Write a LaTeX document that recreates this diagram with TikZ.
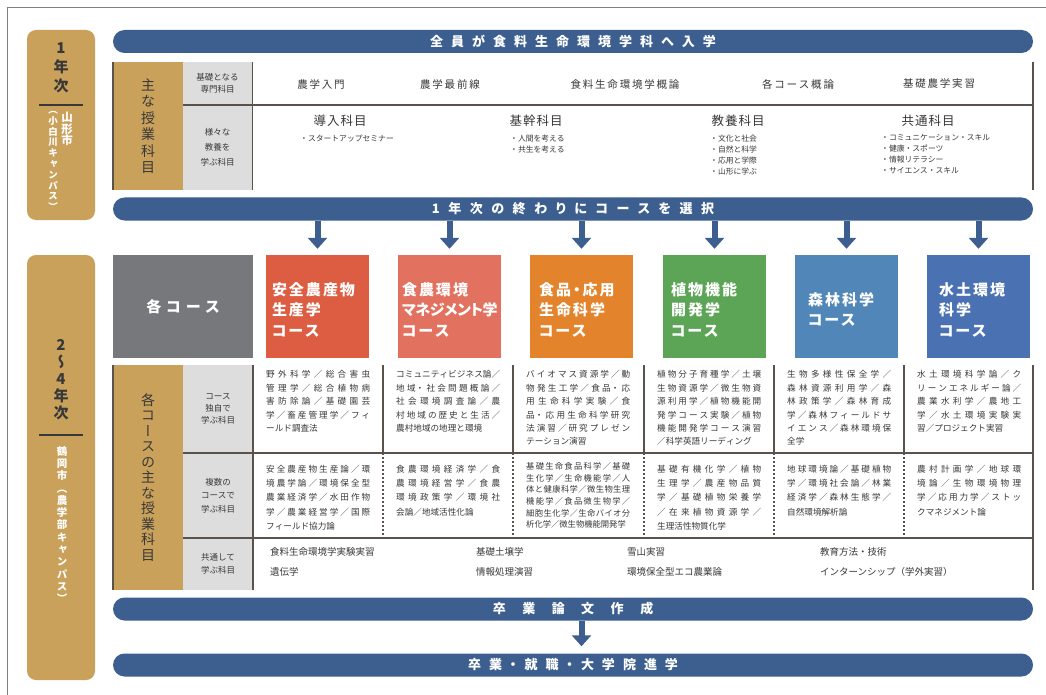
\documentclass[tikz,border=0pt]{standalone}
\usepackage{fontspec}
\usepackage{graphicx}
\usetikzlibrary{arrows.meta}
\setmainfont{Noto Sans CJK JP}
\newfontfamily\hfont{Noto Sans CJK JP}[RawFeature=+palt]
\newfontfamily\vfont{Noto Sans CJK JP}[RawFeature=+vert]
\XeTeXlinebreaklocale "ja"
\lineskiplimit=-\maxdimen
\definecolor{barblue}{HTML}{3C5F90}
\definecolor{sidegold}{HTML}{C9A15B}
\definecolor{headgray}{HTML}{DDDDDD}
\definecolor{coursegray}{HTML}{76787B}
\definecolor{cRed}{HTML}{DC5D42}
\definecolor{cSalmon}{HTML}{E2725F}
\definecolor{cOrange}{HTML}{E3832B}
\definecolor{cGreen}{HTML}{5DA556}
\definecolor{cSteel}{HTML}{5186B9}
\definecolor{cBlue}{HTML}{4A72B2}
\definecolor{txt}{HTML}{383838}
\definecolor{linecol}{HTML}{5A524B}
\definecolor{framecol}{HTML}{808080}
\makeatletter
\def\ls#1#2{\mbox{\def\ls@sk{\hskip#1\relax}\ls@i#2\ls@end}}
\def\ls@end{\ls@end}
\def\ls@i#1{\ifx#1\ls@end\unskip\else#1\ls@sk\expandafter\ls@i\fi}
\makeatother
\newcommand\celltext[1]{\parindent=0pt\leftskip=0pt\rightskip=0pt\parfillskip=0pt plus 1fill\XeTeXlinebreakskip=0pt plus 1fil\relax#1\par}
\tikzset{
  bar/.style={fill=barblue, rounded corners=11.5pt, minimum width=920pt, minimum height=23pt, inner sep=0pt, text=white, font=\hfont\bfseries\fontsize{13}{13}\selectfont},
  sidebar/.style={fill=sidegold, rounded corners=9pt, minimum width=68pt, inner sep=0pt},
  yeartxt/.style={align=center, inner sep=0pt, text=txt, font=\vfont\bfseries\fontsize{15}{19}\selectfont},
  camp/.style={align=center, inner sep=0pt, anchor=north, text=white},
  goldlab/.style={fill=sidegold, inner sep=0pt, minimum width=70pt, align=center, text=txt, font=\vfont\fontsize{14}{16.5}\selectfont},
  headcell/.style={fill=headgray, inner sep=0pt, align=center, text=txt, font=\fontsize{8.5}{12}\selectfont},
  tline/.style={draw=linecol, line width=1.1pt},
  dline/.style={draw=linecol, line width=1.1pt, dash pattern=on 2.2pt off 1.8pt},
  r1item/.style={inner sep=0pt, text=txt, font=\fontsize{10.5}{12}\selectfont},
  subhead/.style={inner sep=0pt, text=txt, font=\fontsize{12.5}{14}\selectfont},
  bullets/.style={anchor=north west, inner sep=0pt, align=left, text=txt, font=\fontsize{7.8}{11}\selectfont},
  course/.style={minimum width=103pt, minimum height=103pt, inner sep=0pt},
  coursetxt/.style={inner sep=0pt, align=left, text=white, font=\hfont\bfseries\fontsize{15}{20.5}\selectfont},
  cell/.style={anchor=north west, inner sep=0pt, text width=104pt, text=txt, font=\fontsize{8.6}{13.4}\selectfont},
  common/.style={anchor=west, inner sep=0pt, text=txt, font=\fontsize{9.5}{11}\selectfont},
  arr/.style={draw=barblue, line width=6pt, -{Triangle[width=19pt,length=11pt]}, shorten >=6pt},
  yline/.style={draw=txt, line width=1.3pt}
}
\begin{document}
\begin{tikzpicture}[x=1pt,y=-1pt]
\useasboundingbox (0,0) rectangle (1046,695);
\fill[white] (0,0) rectangle (1046,695);
\draw[framecol, line width=0.8pt] (7,700) -- (7,7) -- (1050,7);

% sidebars
\node[sidebar, minimum height=190pt] (s1) at (61,125) {};
\node[sidebar, minimum height=425pt] (s2) at (61,467.5) {};
\node[yeartxt] (y1) at (61,68) {1\\年\\次};
\draw[yline] (39,105) -- (83,105);
\node[camp, font=\vfont\bfseries\fontsize{11.5}{11.5}\selectfont] (cp1a) at (67,112) {山\\形\\市};
\node[camp, font=\vfont\bfseries\fontsize{9.5}{10.8}\selectfont] (cp1b) at (53,111) {（\\小\\白\\川\\キ\\ャ\\ン\\パ\\ス\\）};
\node[yeartxt, font=\vfont\bfseries\fontsize{15}{17}\selectfont] (y2) at (61,380) {2\\〜\\4\\年\\次};
\draw[yline] (39,435) -- (83,435);
\node[camp, font=\vfont\bfseries\fontsize{10.5}{12.3}\selectfont] (cp2) at (62,446) {鶴\\岡\\市\\（\\農\\学\\部\\キ\\ャ\\ン\\パ\\ス\\）};

% bars
\node[bar] (b1) at (573,41.5) {\ls{8pt}{全員が食料生命環境学科へ入学}};
\node[bar] (b2) at (573,209) {\ls{8.5pt}{1年次の終わりにコースを選択}};
\node[bar] (b3) at (573,609) {\ls{16.5pt}{卒業論文作成}};
\node[bar] (b4) at (573,665) {\ls{8pt}{卒業・就職・大学院進学}};

% year 1 table
\node[goldlab, minimum height=128pt] (lab1) at (148,126) {主\\な\\授\\業\\科\\目};
\node[headcell, minimum width=69pt, minimum height=43pt] (g11) at (217.5,83.5) {基礎となる\\専門科目};
\node[headcell, minimum width=69pt, minimum height=85pt, font=\fontsize{8.5}{15}\selectfont] (g12) at (217.5,147.5) {様々な\\教養を\\学ぶ科目};
\draw[tline] (183,105) -- (1033,105);
\draw[tline] (252.5,62) -- (252.5,190);
\draw[tline] (1033,62) -- (1033,190);
\draw[tline] (113,62) -- (113,190);

\node[r1item] (a1) at (321,84) {\ls{1.8pt}{農学入門}};
\node[r1item] (a2) at (450,84) {\ls{1.8pt}{農学最前線}};
\node[r1item] (a3) at (625,84) {\ls{1.8pt}{食料生命環境学概論}};
\node[r1item] (a4) at (798,84) {\ls{1.8pt}{各コース概論}};
\node[r1item] (a5) at (939,84) {\ls{1.8pt}{基礎農学実習}};

\node[subhead] (h1) at (340,121) {\ls{1pt}{導入科目}};
\node[subhead] (h2) at (536,121) {\ls{1pt}{基幹科目}};
\node[subhead] (h3) at (738,121) {\ls{1pt}{教養科目}};
\node[subhead] (h4) at (928,121) {\ls{1pt}{共通科目}};
\node[bullets] (l1) at (300,134.5) {・スタートアップセミナー};
\node[bullets] (l2) at (510,134.5) {・人間を考える\\・共生を考える};
\node[bullets] (l3) at (710,134.5) {・文化と社会\\・自然と科学\\・応用と学際\\・山形に学ぶ};
\node[bullets] (l4) at (881,134.5) {・コミュニケーション・スキル\\・健康・スポーツ\\・情報リテラシー\\・サイエンス・スキル};

% course boxes
\node[fill=coursegray, minimum width=140pt, minimum height=103pt, inner sep=0pt, text=white, font=\hfont\bfseries\fontsize{15}{15}\selectfont] (gc) at (183,306.5) {\ls{5pt}{各コース}};
\node[course, fill=cRed] (c1) at (317.5,306.5) {};
\node[course, fill=cSalmon] (c2) at (449.5,306.5) {};
\node[course, fill=cOrange] (c3) at (581.5,306.5) {};
\node[course, fill=cGreen] (c4) at (714.5,306.5) {};
\node[course, fill=cSteel] (c5) at (846.5,306.5) {};
\node[course, fill=cBlue] (c6) at (978.5,306.5) {};
\node[coursetxt, text width=91pt] (t1) at ([yshift=-3pt]c1.center) {\ls{2pt}{安全農産物}\\\ls{2pt}{生産学}\\\ls{2pt}{コース}};
\node[coursetxt, text width=95pt] (t2) at ([yshift=-3pt]c2.center) {\ls{2pt}{食農環境}\\\ls{-0.4pt}{マネジメント学}\\\ls{2pt}{コース}};
\node[coursetxt, text width=85pt] (t3) at ([yshift=-3pt]c3.center) {\ls{2pt}{食品・応用}\\\ls{2pt}{生命科学}\\\ls{2pt}{コース}};
\node[coursetxt, text width=87pt] (t4) at ([yshift=-3pt]c4.center) {\ls{2pt}{植物機能}\\\ls{2pt}{開発学}\\\ls{2pt}{コース}};
\node[coursetxt, text width=77pt] (t5) at ([yshift=-3pt]c5.center) {\ls{2pt}{森林科学}\\\ls{2pt}{コース}};
\node[coursetxt, text width=79pt] (t6) at ([yshift=-3pt]c6.center) {\ls{2pt}{水土環境}\\\ls{2pt}{科学}\\\ls{2pt}{コース}};

\foreach \c in {c1,c2,c3,c4,c5,c6} {\draw[arr] (\c.north |- b2.south) -- (\c.north);}
\draw[arr, shorten >=7pt] (c3.center |- b3.south) -- (c3.center |- b4.north);

% year 2-4 table
\node[goldlab, minimum height=225pt, font=\vfont\fontsize{14}{15.5}\selectfont] (lab2) at (148,477.5) {各\\コ\\ー\\ス\\の\\主\\な\\授\\業\\科\\目};
\node[headcell, minimum width=70pt, minimum height=88pt] (g21) at (218,409) {コース\\独自で\\学ぶ科目};
\node[headcell, minimum width=70pt, minimum height=85pt, font=\fontsize{8.5}{13.5}\selectfont] (g22) at (218,495.5) {複数の\\コースで\\学ぶ科目};
\node[headcell, minimum width=70pt, minimum height=52pt, font=\fontsize{8.5}{13}\selectfont] (g23) at (218,564) {共通して\\学ぶ科目};
\draw[tline] (183,453) -- (1033,453);
\draw[tline] (183,538) -- (1033,538);
\draw[tline] (253,365) -- (253,590);
\draw[tline] (1033,365) -- (1033,590);
\draw[tline] (113,365) -- (113,590);
\foreach \x in {383,513,644,774,904} {
  \draw[tline] (\x,365) -- (\x,453);
  \draw[dline] (\x,453) -- (\x,540);
}

\node[cell] (r1c1) at (266,370.5) {\celltext{野外科学／総合害虫\linebreak 管理学／総合植物病\linebreak 害防除論／基礎園芸\linebreak 学／畜産管理学／フィ\linebreak ールド調査法}};
\node[cell] (r1c2) at (396,370.5) {\celltext{コミュニティビジネス論／\linebreak 地域・社会問題概論／\linebreak 社会環境調査論／農\linebreak 村地域の歴史と生活／\linebreak 農村地域の地理と環境}};
\node[cell] (r1c3) at (526,370.5) {\celltext{バイオマス資源学／動\linebreak 物発生工学／食品・応\linebreak 用生命科学実験／食\linebreak 品・応用生命科学研究\linebreak 法演習／研究プレゼン\linebreak テーション演習}};
\node[cell] (r1c4) at (657,370.5) {\celltext{植物分子育種学／土壌\linebreak 生物資源学／微生物資\linebreak 源利用学／植物機能開\linebreak 発学コース実験／植物\linebreak 機能開発学コース演習\linebreak ／科学英語リーディング}};
\node[cell] (r1c5) at (787,370.5) {\celltext{生物多様性保全学／\linebreak 森林資源利用学／森\linebreak 林政策学／森林育成\linebreak 学／森林フィールドサ\linebreak イエンス／森林環境保\linebreak 全学}};
\node[cell] (r1c6) at (917,370.5) {\celltext{水土環境科学論／ク\linebreak リーンエネルギー論／\linebreak 農業水利学／農地工\linebreak 学／水土環境実験実\linebreak 習／プロジェクト実習}};

\node[cell, font=\fontsize{8.6}{14.2}\selectfont] (r2c1) at (266,465) {\celltext{安全農産物生産論／環\linebreak 境農学論／環境保全型\linebreak 農業経済学／水田作物\linebreak 学／農業経営学／国際\linebreak フィールド協力論}};
\node[cell, font=\fontsize{8.6}{14.2}\selectfont] (r2c2) at (396,465) {\celltext{食農環境経済学／食\linebreak 農環境経営学／食農\linebreak 環境政策学／環境社\linebreak 会論／地域活性化論}};
\node[cell, font=\fontsize{8.3}{11.6}\selectfont] (r2c3) at (526,462.5) {\celltext{基礎生命食品科学／基礎\linebreak 生化学／生命機能学／人\linebreak 体と健康科学／微生物生理\linebreak 機能学／食品微生物学／\linebreak 細胞生化学／生命バイオ分\linebreak 析化学／微生物機能開発学}};
\node[cell, font=\fontsize{8.6}{14.2}\selectfont] (r2c4) at (657,465) {\celltext{基礎有機化学／植物\linebreak 生理学／農産物品質\linebreak 学／基礎植物栄養学\linebreak ／在来植物資源学／\linebreak 生理活性物質化学}};
\node[cell, font=\fontsize{8.6}{14.2}\selectfont] (r2c5) at (787,465) {\celltext{地球環境論／基礎植物\linebreak 学／環境社会論／林業\linebreak 経済学／森林生態学／\linebreak 自然環境解析論}};
\node[cell, font=\fontsize{8.6}{14.2}\selectfont] (r2c6) at (917,465) {\celltext{農村計画学／地球環\linebreak 境論／生物環境物理\linebreak 学／応用力学／ストッ\linebreak クマネジメント論}};

\node[common] (k1) at (270,552) {食料生命環境学実験実習};
\node[common] (k2) at (270,572) {遺伝学};
\node[common] (k3) at (476,552) {基礎土壌学};
\node[common] (k4) at (476,572) {情報処理演習};
\node[common] (k5) at (627,552) {雪山実習};
\node[common] (k6) at (627,572) {環境保全型エコ農業論};
\node[common] (k7) at (820,552) {教育方法・技術};
\node[common] (k8) at (820,572) {インターンシップ（学外実習）};
\end{tikzpicture}
\end{document}
